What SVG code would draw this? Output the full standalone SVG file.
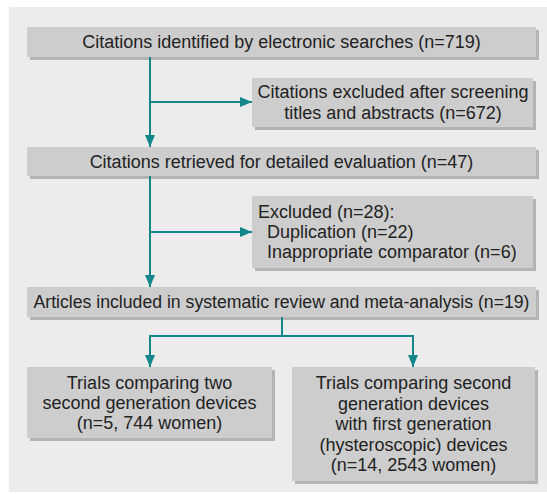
<svg xmlns="http://www.w3.org/2000/svg" width="547" height="494" viewBox="0 0 547 494">
<style>
.bg{fill:#ececec}
.box{fill:#cdcdcd}
.sh{fill:#b4b4b4}
text{font-family:"Liberation Sans",Arial,sans-serif;font-size:18px;fill:#222}
.c{text-anchor:middle}
.ln{stroke:#13868a;stroke-width:2;fill:none}
</style>
<defs>
<marker id="ah" markerUnits="userSpaceOnUse" markerWidth="12" markerHeight="10" refX="12" refY="5" orient="auto">
<path d="M0,0 L12,5 L0,10 Z" fill="#13868a"/>
</marker>
</defs>
<rect class="bg" x="9" y="7" width="538" height="485"/>
<g id="n1">
<rect class="sh" x="30" y="30" width="509" height="30"/>
<rect class="box" x="27" y="27" width="509" height="30"/>
<text class="c" x="281.5" y="48">Citations identified by electronic searches (n=719)</text>
</g>
<g id="n2">
<rect class="sh" x="255" y="81" width="281" height="49"/>
<rect class="box" x="252" y="78" width="281" height="49"/>
<text class="c" x="393" y="98">Citations excluded after screening</text>
<text class="c" x="393" y="119">titles and abstracts (n=672)</text>
</g>
<g id="n3">
<rect class="sh" x="30" y="150" width="509" height="29"/>
<rect class="box" x="27" y="147" width="509" height="29"/>
<text class="c" x="281.5" y="168">Citations retrieved for detailed evaluation (n=47)</text>
</g>
<g id="n4">
<rect class="sh" x="255" y="199" width="281" height="72"/>
<rect class="box" x="252" y="196" width="281" height="72"/>
<text x="258" y="218">Excluded (n=28):</text>
<text x="267" y="238">Duplication (n=22)</text>
<text x="267" y="258">Inappropriate comparator (n=6)</text>
</g>
<g id="n5">
<rect class="sh" x="30" y="290" width="509" height="30"/>
<rect class="box" x="27" y="287" width="509" height="30"/>
<text class="c" x="281.5" y="308" textLength="496" lengthAdjust="spacingAndGlyphs">Articles included in systematic review and meta-analysis (n=19)</text>
</g>
<g id="n6">
<rect class="sh" x="30" y="370" width="245" height="71"/>
<rect class="box" x="27" y="367" width="245" height="71"/>
<text class="c" x="149.5" y="389">Trials comparing two</text>
<text class="c" x="149.5" y="409">second generation devices</text>
<text class="c" x="149.5" y="429">(n=5, 744 women)</text>
</g>
<g id="n7">
<rect class="sh" x="295" y="370" width="243" height="114"/>
<rect class="box" x="292" y="367" width="243" height="114"/>
<text class="c" x="413.5" y="389">Trials comparing second</text>
<text class="c" x="413.5" y="409.5">generation devices</text>
<text class="c" x="413.5" y="430">with first generation</text>
<text class="c" x="413.5" y="450.5">(hysteroscopic) devices</text>
<text class="c" x="413.5" y="471">(n=14, 2543 women)</text>
</g>
<g id="connectors">
<path class="ln" d="M150,57 V147" marker-end="url(#ah)"/>
<path class="ln" d="M150,102 H252" marker-end="url(#ah)"/>
<path class="ln" d="M150,176 V287" marker-end="url(#ah)"/>
<path class="ln" d="M150,232 H252" marker-end="url(#ah)"/>
<path class="ln" d="M282,317 V336"/>
<path class="ln" d="M149,336 H414"/>
<path class="ln" d="M150,336 V367" marker-end="url(#ah)"/>
<path class="ln" d="M413,336 V367" marker-end="url(#ah)"/>
</g>
</svg>
